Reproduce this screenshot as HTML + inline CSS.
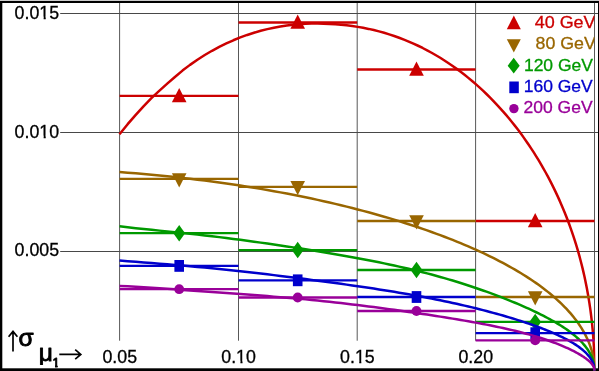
<!DOCTYPE html>
<html><head><meta charset="utf-8"><title>chart</title>
<style>
html,body{margin:0;padding:0;background:#fff;}
body{width:599px;height:371px;overflow:hidden;}
svg{display:block;will-change:transform;font-family:"Liberation Sans",sans-serif;}
</style></head><body>
<svg width="599" height="371" viewBox="0 0 599 371">
<defs><clipPath id="cp"><rect x="0" y="0" width="595.6" height="371"/></clipPath>
<clipPath id="cmu"><rect x="36" y="340" width="20" height="25"/></clipPath>
<clipPath id="c1"><path d="M49 350H62V365H57.6V369H55V365H49Z"/></clipPath>
<clipPath id="cl"><rect x="0" y="0" width="594.4" height="371"/></clipPath></defs>
<rect width="599" height="371" fill="#fff"/>
<!-- frame -->
<rect x="0" y="0" width="599" height="1" fill="#cccccc"/>
<rect x="0" y="1" width="599" height="2" fill="#000"/>
<rect x="0" y="1" width="2.3" height="370" fill="#000"/>
<rect x="0" y="368.3" width="599" height="2.7" fill="#000"/>
<rect x="598" y="1" width="1" height="370" fill="#000"/>
<g stroke-width="1" fill="none">
<path d="M119.6 3V340.7" stroke="#585858"/>
<path d="M238.5 3V340.7" stroke="#585858"/>
<path d="M357.2 3V340.7" stroke="#585858"/>
<path d="M475.6 3V340.7" stroke="#585858"/>
<path d="M594.5 3V340.7" stroke="#585858"/>
<path d="M60.2 13.5H598" stroke="#484848"/>
<path d="M60.2 132.5H598" stroke="#484848"/>
<path d="M60.2 251.5H598" stroke="#484848"/>
</g>
<g clip-path="url(#cp)">
<g stroke="#cc0000" fill="none">
<path d="M119.50 134.17 L127.66 124.19 L135.74 114.81 L143.73 106.04 L151.65 97.95 L159.48 90.56 L167.23 83.64 L174.90 76.94 L182.49 70.61 L190.00 64.88 L197.42 59.72 L204.77 55.04 L212.04 50.78 L219.23 46.91 L226.34 43.42 L233.36 40.27 L240.31 37.45 L247.19 34.94 L253.98 32.73 L260.69 30.79 L267.33 29.11 L273.89 27.68 L280.37 26.49 L286.78 25.52 L293.11 24.76 L299.36 24.20 L305.53 23.82 L311.63 23.61 L317.66 23.56 L323.61 23.66 L329.48 23.89 L335.28 24.25 L341.00 24.73 L346.65 25.33 L352.22 26.05 L357.72 26.88 L363.15 27.83 L368.51 28.90 L373.79 30.08 L378.99 31.39 L384.13 32.80 L389.19 34.34 L394.19 35.98 L399.11 37.73 L403.96 39.59 L408.73 41.54 L413.44 43.60 L418.08 45.75 L422.65 47.99 L427.14 50.32 L431.57 52.73 L435.93 55.23 L440.22 57.80 L444.44 60.46 L448.60 63.19 L452.68 65.99 L456.70 68.86 L460.65 71.79 L464.54 74.79 L468.35 77.86 L472.11 80.98 L475.79 84.16 L479.41 87.39 L482.97 90.67 L486.45 94.01 L489.88 97.39 L493.24 100.82 L496.54 104.29 L499.77 107.80 L502.94 111.35 L506.05 114.94 L509.10 118.56 L512.08 122.21 L515.00 125.90 L517.86 129.61 L520.66 133.36 L523.40 137.13 L526.08 140.92 L528.70 144.74 L531.26 148.58 L533.76 152.44 L536.20 156.31 L538.58 160.21 L540.91 164.12 L543.18 168.05 L545.39 171.99 L547.54 175.95 L549.64 179.91 L551.68 183.89 L553.67 187.88 L555.60 191.87 L557.48 195.88 L559.30 199.89 L561.07 203.90 L562.79 207.93 L564.46 211.95 L566.07 215.98 L567.63 220.01 L569.14 224.04 L570.60 228.08 L572.01 232.11 L573.37 236.14 L574.68 240.16 L575.94 244.18 L577.15 248.20 L578.32 252.21 L579.44 256.21 L580.51 260.21 L581.54 264.19 L582.52 268.16 L583.45 272.12 L584.35 276.07 L585.19 280.00 L586.00 283.91 L586.76 287.81 L587.49 291.68 L588.17 295.53 L588.81 299.36 L589.41 303.17 L589.97 306.94 L590.50 310.69 L590.98 314.40 L591.43 318.08 L591.85 321.73 L592.23 325.33 L592.58 328.89 L592.89 332.41 L593.17 335.87 L593.42 339.29 L593.64 342.64 L593.83 345.93 L594.00 349.15 L594.14 352.29 L594.25 355.35 L594.34 358.31 L594.40 361.15 L594.45 363.85 L594.48 366.37 L594.50 368.65 L594.50 370.40" stroke-width="2.5" stroke-linejoin="round"/>
<path d="M119.6 95.9H238.5" stroke-width="2.3"/>
<path d="M238.5 22.5H357.2" stroke-width="2.3"/>
<path d="M357.2 69.5H475.6" stroke-width="2.3"/>
<path d="M475.6 221.0H594.5" stroke-width="2.3"/>
</g>
<path d="M171.90 102.25L186.50 102.25L179.20 87.90Z" fill="#cc0000"/>
<path d="M290.40 28.85L305.00 28.85L297.70 14.50Z" fill="#cc0000"/>
<path d="M409.20 75.85L423.80 75.85L416.50 61.50Z" fill="#cc0000"/>
<path d="M527.90 227.35L542.50 227.35L535.20 213.00Z" fill="#cc0000"/>
<g stroke="#996600" fill="none">
<path d="M119.50 172.02 L127.66 172.65 L135.74 173.31 L143.73 174.00 L151.65 174.72 L159.48 175.48 L167.23 176.26 L174.90 177.07 L182.49 177.90 L190.00 178.77 L197.42 179.67 L204.77 180.59 L212.04 181.53 L219.23 182.51 L226.34 183.51 L233.36 184.53 L240.31 185.58 L247.19 186.66 L253.98 187.75 L260.69 188.87 L267.33 190.02 L273.89 191.18 L280.37 192.36 L286.78 193.57 L293.11 194.80 L299.36 196.04 L305.53 197.31 L311.63 198.59 L317.66 199.89 L323.61 201.21 L329.48 202.54 L335.28 203.89 L341.00 205.26 L346.65 206.64 L352.22 208.03 L357.72 209.44 L363.15 210.87 L368.51 212.30 L373.79 213.75 L378.99 215.22 L384.13 216.69 L389.19 218.17 L394.19 219.67 L399.11 221.18 L403.96 222.69 L408.73 224.22 L413.44 225.75 L418.08 227.30 L422.65 228.85 L427.14 230.41 L431.57 231.98 L435.93 233.56 L440.22 235.14 L444.44 236.73 L448.60 238.33 L452.68 239.94 L456.70 241.55 L460.65 243.16 L464.54 244.79 L468.35 246.41 L472.11 248.05 L475.79 249.69 L479.41 251.33 L482.97 252.98 L486.45 254.63 L489.88 256.28 L493.24 257.94 L496.54 259.61 L499.77 261.27 L502.94 262.94 L506.05 264.61 L509.10 266.29 L512.08 267.97 L515.00 269.65 L517.86 271.33 L520.66 273.02 L523.40 274.70 L526.08 276.39 L528.70 278.08 L531.26 279.77 L533.76 281.46 L536.20 283.15 L538.58 284.84 L540.91 286.54 L543.18 288.23 L545.39 289.92 L547.54 291.61 L549.64 293.30 L551.68 294.99 L553.67 296.68 L555.60 298.37 L557.48 300.06 L559.30 301.74 L561.07 303.42 L562.79 305.10 L564.46 306.78 L566.07 308.45 L567.63 310.12 L569.14 311.79 L570.60 313.45 L572.01 315.11 L573.37 316.76 L574.68 318.41 L575.94 320.06 L577.15 321.70 L578.32 323.33 L579.44 324.95 L580.51 326.57 L581.54 328.19 L582.52 329.79 L583.45 331.39 L584.35 332.98 L585.19 334.56 L586.00 336.13 L586.76 337.69 L587.49 339.24 L588.17 340.78 L588.81 342.30 L589.41 343.82 L589.97 345.32 L590.50 346.81 L590.98 348.29 L591.43 349.75 L591.85 351.19 L592.23 352.62 L592.58 354.03 L592.89 355.42 L593.17 356.79 L593.42 358.14 L593.64 359.46 L593.83 360.76 L594.00 362.03 L594.14 363.27 L594.25 364.47 L594.34 365.64 L594.40 366.75 L594.45 367.82 L594.48 368.81 L594.50 369.71 L594.50 370.40" stroke-width="2.5" stroke-linejoin="round"/>
<path d="M119.6 178.9H238.5" stroke-width="2.3"/>
<path d="M238.5 186.8H357.2" stroke-width="2.3"/>
<path d="M357.2 221.0H475.6" stroke-width="2.3"/>
<path d="M475.6 297.0H594.5" stroke-width="2.3"/>
</g>
<path d="M171.90 173.15L186.50 173.15L179.20 187.40Z" fill="#996600"/>
<path d="M290.40 181.05L305.00 181.05L297.70 195.30Z" fill="#996600"/>
<path d="M409.20 215.25L423.80 215.25L416.50 229.50Z" fill="#996600"/>
<path d="M527.90 291.25L542.50 291.25L535.20 305.50Z" fill="#996600"/>
<g stroke="#009900" fill="none">
<path d="M119.50 226.24 L127.66 227.25 L135.74 228.17 L143.73 229.02 L151.65 229.83 L159.48 230.62 L167.23 231.40 L174.90 232.18 L182.49 232.96 L190.00 233.76 L197.42 234.58 L204.77 235.41 L212.04 236.26 L219.23 237.13 L226.34 238.02 L233.36 238.92 L240.31 239.83 L247.19 240.75 L253.98 241.68 L260.69 242.62 L267.33 243.56 L273.89 244.51 L280.37 245.47 L286.78 246.42 L293.11 247.38 L299.36 248.35 L305.53 249.31 L311.63 250.28 L317.66 251.25 L323.61 252.22 L329.48 253.20 L335.28 254.18 L341.00 255.17 L346.65 256.16 L352.22 257.16 L357.72 258.17 L363.15 259.19 L368.51 260.22 L373.79 261.25 L378.99 262.30 L384.13 263.36 L389.19 264.43 L394.19 265.51 L399.11 266.60 L403.96 267.70 L408.73 268.82 L413.44 269.95 L418.08 271.09 L422.65 272.24 L427.14 273.40 L431.57 274.57 L435.93 275.76 L440.22 276.95 L444.44 278.15 L448.60 279.36 L452.68 280.57 L456.70 281.79 L460.65 283.02 L464.54 284.25 L468.35 285.49 L472.11 286.73 L475.79 287.97 L479.41 289.21 L482.97 290.45 L486.45 291.69 L489.88 292.94 L493.24 294.18 L496.54 295.41 L499.77 296.65 L502.94 297.88 L506.05 299.11 L509.10 300.33 L512.08 301.55 L515.00 302.76 L517.86 303.97 L520.66 305.17 L523.40 306.36 L526.08 307.55 L528.70 308.73 L531.26 309.91 L533.76 311.08 L536.20 312.25 L538.58 313.40 L540.91 314.56 L543.18 315.70 L545.39 316.84 L547.54 317.98 L549.64 319.11 L551.68 320.23 L553.67 321.35 L555.60 322.46 L557.48 323.57 L559.30 324.68 L561.07 325.78 L562.79 326.88 L564.46 327.97 L566.07 329.07 L567.63 330.15 L569.14 331.24 L570.60 332.32 L572.01 333.40 L573.37 334.48 L574.68 335.55 L575.94 336.62 L577.15 337.69 L578.32 338.76 L579.44 339.82 L580.51 340.88 L581.54 341.94 L582.52 343.00 L583.45 344.05 L584.35 345.10 L585.19 346.14 L586.00 347.18 L586.76 348.22 L587.49 349.25 L588.17 350.28 L588.81 351.30 L589.41 352.32 L589.97 353.33 L590.50 354.33 L590.98 355.33 L591.43 356.31 L591.85 357.29 L592.23 358.26 L592.58 359.21 L592.89 360.16 L593.17 361.09 L593.42 362.01 L593.64 362.91 L593.83 363.80 L594.00 364.67 L594.14 365.51 L594.25 366.34 L594.34 367.14 L594.40 367.90 L594.45 368.63 L594.48 369.31 L594.50 369.93 L594.50 370.40" stroke-width="2.5" stroke-linejoin="round"/>
<path d="M119.6 233.2H238.5" stroke-width="2.3"/>
<path d="M238.5 250.1H357.2" stroke-width="2.3"/>
<path d="M357.2 270.0H475.6" stroke-width="2.3"/>
<path d="M475.6 321.9H594.5" stroke-width="2.3"/>
</g>
<path d="M179.20 224.95L185.10 233.20L179.20 241.45L173.30 233.20Z" fill="#009900"/>
<path d="M297.70 241.85L303.60 250.10L297.70 258.35L291.80 250.10Z" fill="#009900"/>
<path d="M416.50 261.75L422.40 270.00L416.50 278.25L410.60 270.00Z" fill="#009900"/>
<path d="M535.20 313.65L541.10 321.90L535.20 330.15L529.30 321.90Z" fill="#009900"/>
<g stroke="#0000cc" fill="none">
<path d="M119.50 260.40 L127.66 261.15 L135.74 261.83 L143.73 262.48 L151.65 263.10 L159.48 263.72 L167.23 264.33 L174.90 264.96 L182.49 265.59 L190.00 266.24 L197.42 266.91 L204.77 267.59 L212.04 268.29 L219.23 269.01 L226.34 269.74 L233.36 270.49 L240.31 271.24 L247.19 272.01 L253.98 272.78 L260.69 273.56 L267.33 274.34 L273.89 275.13 L280.37 275.92 L286.78 276.72 L293.11 277.51 L299.36 278.30 L305.53 279.09 L311.63 279.89 L317.66 280.68 L323.61 281.47 L329.48 282.26 L335.28 283.05 L341.00 283.84 L346.65 284.63 L352.22 285.42 L357.72 286.21 L363.15 287.01 L368.51 287.81 L373.79 288.61 L378.99 289.41 L384.13 290.22 L389.19 291.03 L394.19 291.84 L399.11 292.66 L403.96 293.49 L408.73 294.32 L413.44 295.16 L418.08 296.00 L422.65 296.85 L427.14 297.70 L431.57 298.56 L435.93 299.43 L440.22 300.29 L444.44 301.17 L448.60 302.05 L452.68 302.93 L456.70 303.82 L460.65 304.71 L464.54 305.60 L468.35 306.50 L472.11 307.40 L475.79 308.30 L479.41 309.21 L482.97 310.11 L486.45 311.02 L489.88 311.93 L493.24 312.84 L496.54 313.74 L499.77 314.65 L502.94 315.56 L506.05 316.46 L509.10 317.37 L512.08 318.27 L515.00 319.17 L517.86 320.07 L520.66 320.96 L523.40 321.86 L526.08 322.75 L528.70 323.64 L531.26 324.52 L533.76 325.41 L536.20 326.29 L538.58 327.16 L540.91 328.04 L543.18 328.91 L545.39 329.77 L547.54 330.64 L549.64 331.50 L551.68 332.36 L553.67 333.22 L555.60 334.07 L557.48 334.92 L559.30 335.77 L561.07 336.61 L562.79 337.45 L564.46 338.29 L566.07 339.13 L567.63 339.97 L569.14 340.80 L570.60 341.63 L572.01 342.46 L573.37 343.28 L574.68 344.10 L575.94 344.92 L577.15 345.74 L578.32 346.56 L579.44 347.37 L580.51 348.18 L581.54 348.98 L582.52 349.79 L583.45 350.59 L584.35 351.38 L585.19 352.18 L586.00 352.97 L586.76 353.75 L587.49 354.53 L588.17 355.31 L588.81 356.08 L589.41 356.85 L589.97 357.61 L590.50 358.36 L590.98 359.11 L591.43 359.85 L591.85 360.59 L592.23 361.31 L592.58 362.03 L592.89 362.74 L593.17 363.44 L593.42 364.13 L593.64 364.80 L593.83 365.47 L594.00 366.12 L594.14 366.75 L594.25 367.36 L594.34 367.96 L594.40 368.53 L594.45 369.08 L594.48 369.59 L594.50 370.05 L594.50 370.40" stroke-width="2.5" stroke-linejoin="round"/>
<path d="M119.6 265.9H238.5" stroke-width="2.3"/>
<path d="M238.5 280.3H357.2" stroke-width="2.3"/>
<path d="M357.2 297.0H475.6" stroke-width="2.3"/>
<path d="M475.6 333.2H594.5" stroke-width="2.3"/>
</g>
<rect x="174.40" y="260.00" width="9.6" height="11.8" fill="#0000cc"/>
<rect x="292.90" y="274.40" width="9.6" height="11.8" fill="#0000cc"/>
<rect x="411.70" y="291.10" width="9.6" height="11.8" fill="#0000cc"/>
<rect x="530.40" y="327.30" width="9.6" height="11.8" fill="#0000cc"/>
<g stroke="#990099" fill="none">
<path d="M119.50 286.10 L127.66 286.34 L135.74 286.69 L143.73 287.14 L151.65 287.65 L159.48 288.19 L167.23 288.76 L174.90 289.33 L182.49 289.89 L190.00 290.46 L197.42 291.01 L204.77 291.55 L212.04 292.08 L219.23 292.60 L226.34 293.11 L233.36 293.61 L240.31 294.11 L247.19 294.61 L253.98 295.11 L260.69 295.61 L267.33 296.12 L273.89 296.64 L280.37 297.16 L286.78 297.70 L293.11 298.25 L299.36 298.81 L305.53 299.38 L311.63 299.97 L317.66 300.57 L323.61 301.18 L329.48 301.80 L335.28 302.43 L341.00 303.07 L346.65 303.73 L352.22 304.39 L357.72 305.05 L363.15 305.72 L368.51 306.40 L373.79 307.08 L378.99 307.77 L384.13 308.45 L389.19 309.14 L394.19 309.83 L399.11 310.51 L403.96 311.20 L408.73 311.89 L413.44 312.57 L418.08 313.25 L422.65 313.93 L427.14 314.61 L431.57 315.28 L435.93 315.96 L440.22 316.63 L444.44 317.30 L448.60 317.96 L452.68 318.63 L456.70 319.30 L460.65 319.96 L464.54 320.62 L468.35 321.29 L472.11 321.95 L475.79 322.62 L479.41 323.29 L482.97 323.96 L486.45 324.63 L489.88 325.31 L493.24 325.98 L496.54 326.66 L499.77 327.35 L502.94 328.04 L506.05 328.73 L509.10 329.42 L512.08 330.12 L515.00 330.83 L517.86 331.53 L520.66 332.24 L523.40 332.96 L526.08 333.68 L528.70 334.40 L531.26 335.12 L533.76 335.85 L536.20 336.58 L538.58 337.31 L540.91 338.05 L543.18 338.78 L545.39 339.52 L547.54 340.25 L549.64 340.99 L551.68 341.72 L553.67 342.46 L555.60 343.19 L557.48 343.92 L559.30 344.64 L561.07 345.37 L562.79 346.09 L564.46 346.80 L566.07 347.52 L567.63 348.22 L569.14 348.92 L570.60 349.62 L572.01 350.31 L573.37 350.99 L574.68 351.67 L575.94 352.33 L577.15 353.00 L578.32 353.65 L579.44 354.29 L580.51 354.93 L581.54 355.56 L582.52 356.18 L583.45 356.80 L584.35 357.40 L585.19 357.99 L586.00 358.58 L586.76 359.16 L587.49 359.73 L588.17 360.29 L588.81 360.84 L589.41 361.38 L589.97 361.92 L590.50 362.44 L590.98 362.96 L591.43 363.47 L591.85 363.97 L592.23 364.46 L592.58 364.94 L592.89 365.41 L593.17 365.87 L593.42 366.33 L593.64 366.77 L593.83 367.21 L594.00 367.63 L594.14 368.04 L594.25 368.44 L594.34 368.83 L594.40 369.20 L594.45 369.55 L594.48 369.88 L594.50 370.17 L594.50 370.40" stroke-width="2.5" stroke-linejoin="round"/>
<path d="M119.6 289.2H238.5" stroke-width="2.3"/>
<path d="M238.5 297.5H357.2" stroke-width="2.3"/>
<path d="M357.2 311.0H475.6" stroke-width="2.3"/>
<path d="M475.6 340.4H594.5" stroke-width="2.3"/>
</g>
<circle cx="179.20" cy="289.20" r="4.9" fill="#990099"/>
<circle cx="297.70" cy="297.50" r="4.9" fill="#990099"/>
<circle cx="416.50" cy="311.00" r="4.9" fill="#990099"/>
<circle cx="535.20" cy="340.40" r="4.9" fill="#990099"/>
</g>
<g font-size="17" stroke-width="0.3" clip-path="url(#cl)">
<text x="534.7" y="28.20" textLength="60.9" lengthAdjust="spacingAndGlyphs" fill="#cc0000" stroke="#cc0000">40 GeV</text>
<text x="535.5" y="49.45" textLength="60.25" lengthAdjust="spacingAndGlyphs" fill="#996600" stroke="#996600">80 GeV</text>
<text x="523.9" y="70.70" textLength="69.1" lengthAdjust="spacingAndGlyphs" fill="#009900" stroke="#009900">120 GeV</text>
<text x="523.7" y="91.95" textLength="69.1" lengthAdjust="spacingAndGlyphs" fill="#0000cc" stroke="#0000cc">160 GeV</text>
<text x="523.5" y="113.20" textLength="69.1" lengthAdjust="spacingAndGlyphs" fill="#990099" stroke="#990099">200 GeV</text>
<path d="M506.80 29.3L520.80 29.3L513.8 15.6Z" fill="#cc0000"/>
<path d="M506.80 39.3L520.80 39.3L513.8 52.5Z" fill="#996600"/>
<path d="M513.70 57.80L519.70 65.70L513.70 73.60L507.70 65.70Z" fill="#009900"/>
<rect x="509.3" y="81.5" width="9.5" height="11.7" fill="#0000cc"/>
<circle cx="513.90" cy="108.60" r="4.7" fill="#990099"/>
</g>
<g font-size="17.8" fill="#000" stroke="#000" stroke-width="0.3">
<text x="14.6" y="19">0.015</text>
<text x="14.6" y="138">0.010</text>
<text x="14.6" y="256">0.005</text>
<text x="119.8" y="363" text-anchor="middle">0.05</text>
<text x="238.6" y="363" text-anchor="middle">0.10</text>
<text x="357.4" y="363" text-anchor="middle">0.15</text>
<text x="475.8" y="363" text-anchor="middle">0.20</text>
</g>
<g fill="#fff">
<rect x="39.84" y="16.70" width="3.8" height="3.6"/>
<rect x="45.74" y="16.70" width="3.6" height="3.6"/>
<rect x="39.84" y="135.70" width="3.8" height="3.6"/>
<rect x="45.74" y="135.70" width="3.6" height="3.6"/>
<rect x="236.62" y="360.70" width="3.8" height="3.6"/>
<rect x="242.52" y="360.70" width="3.6" height="3.6"/>
<rect x="355.42" y="360.70" width="3.8" height="3.6"/>
<rect x="361.32" y="360.70" width="3.6" height="3.6"/>
</g>
<g fill="#000" stroke="#000" stroke-linejoin="round">
<text x="18.4" y="346.3" font-size="24.5" stroke-width="0.9">σ</text>
<text x="38.7" y="360.5" font-size="24.5" stroke-width="0.9" clip-path="url(#cmu)">μ</text>
<text x="52.55" y="367.35" font-size="12.6" stroke-width="0.9" clip-path="url(#c1)">1</text>
</g>
<g stroke="#000" stroke-width="1.7" fill="none">
<path d="M13 351.6V331.4M8.6 336.8L13 331.4L17.4 336.8"/>
<path d="M59.3 354.4H80.4M75.2 349.6L80.8 354.4L75.2 359.2"/>
</g>
</svg>
</body></html>
